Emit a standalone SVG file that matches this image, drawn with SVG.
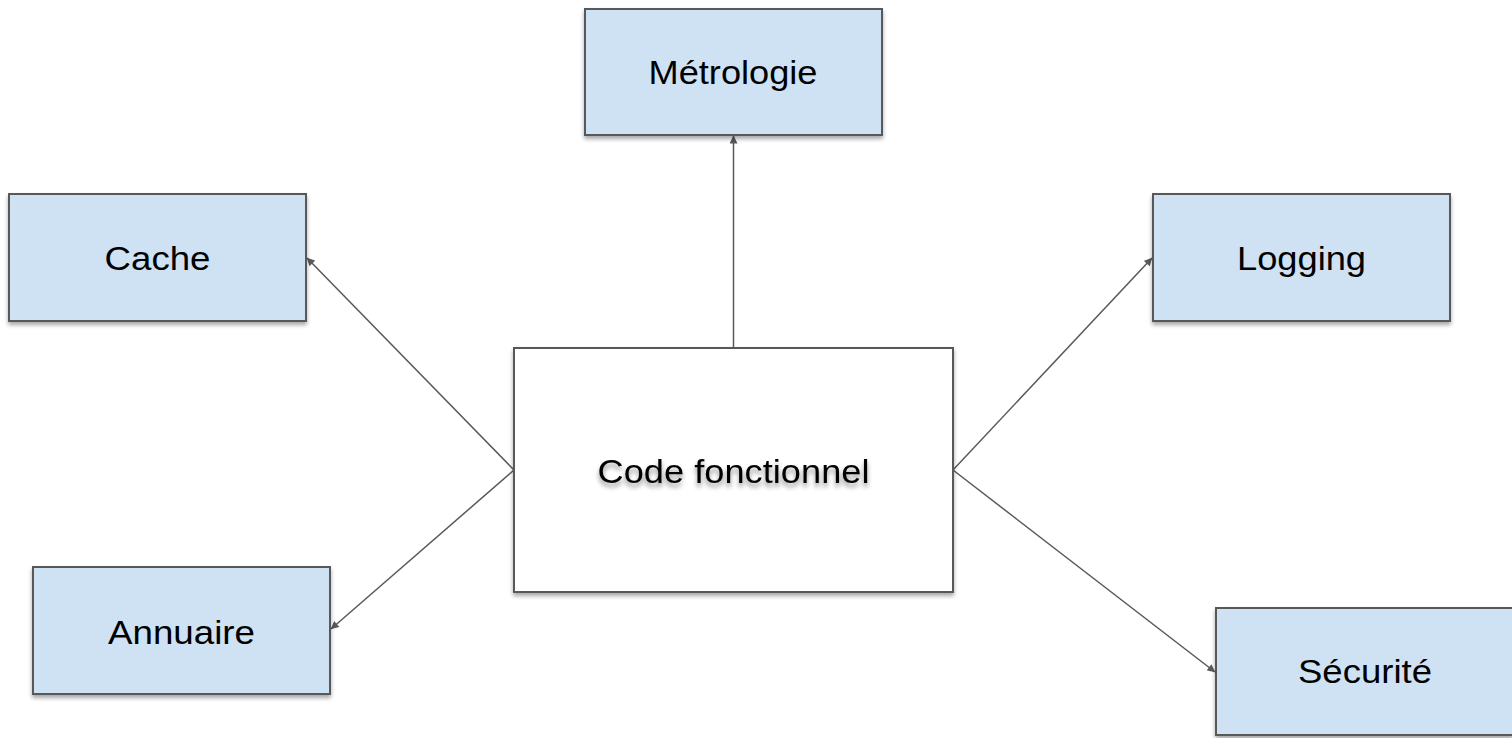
<svg xmlns="http://www.w3.org/2000/svg" width="1512" height="738" viewBox="0 0 1512 738">
  <defs>
    <marker id="arrow" viewBox="0 0 10 10" refX="9.5" refY="5" markerWidth="9" markerHeight="8" markerUnits="userSpaceOnUse" orient="auto">
      <path d="M0,0 L10,5 L0,10 z" fill="#595959"/>
    </marker>
    <filter id="boxShadow" x="-10%" y="-10%" width="120%" height="130%">
      <feGaussianBlur in="SourceAlpha" stdDeviation="2"/>
      <feOffset dx="0" dy="3" result="b"/>
      <feComponentTransfer><feFuncA type="linear" slope="0.35"/></feComponentTransfer>
      <feMerge><feMergeNode/><feMergeNode in="SourceGraphic"/></feMerge>
    </filter>
    <filter id="textShadow" x="-10%" y="-30%" width="120%" height="170%">
      <feGaussianBlur in="SourceAlpha" stdDeviation="2.5"/>
      <feOffset dx="0" dy="4"/>
      <feComponentTransfer><feFuncA type="linear" slope="0.45"/></feComponentTransfer>
      <feMerge><feMergeNode/><feMergeNode in="SourceGraphic"/></feMerge>
    </filter>
  </defs>
  <style>
    .box { fill: #cfe2f3; stroke: #595959; stroke-width: 2; filter: url(#boxShadow); }
    .core { fill: #ffffff; stroke: #595959; stroke-width: 2; filter: url(#boxShadow); }
    .label { font-family: "Liberation Sans", Arial, sans-serif; font-size: 34px; fill: #000000; text-anchor: middle; }
    .edge { stroke: #595959; stroke-width: 1.5; fill: none; marker-end: url(#arrow); }
  </style>
  <rect width="1512" height="738" fill="#ffffff"/>

  <!-- connectors: from the core module out to each cross-cutting concern -->
  <g id="connectors">
    <line class="edge" x1="733.5" y1="348" x2="733.5" y2="136"/>
    <line class="edge" x1="514" y1="470" x2="307" y2="258"/>
    <line class="edge" x1="514" y1="470" x2="331" y2="629"/>
    <line class="edge" x1="953" y1="470" x2="1152" y2="258"/>
    <line class="edge" x1="953" y1="470" x2="1215" y2="672"/>
  </g>

  <g id="node-metrologie">
    <rect class="box" x="585" y="9" width="297" height="126"/>
    <text class="label" x="733" y="84" textLength="169" lengthAdjust="spacingAndGlyphs">Métrologie</text>
  </g>

  <g id="node-cache">
    <rect class="box" x="9" y="194" width="297" height="127"/>
    <text class="label" x="157.5" y="270" textLength="106" lengthAdjust="spacingAndGlyphs">Cache</text>
  </g>

  <g id="node-logging">
    <rect class="box" x="1153" y="194" width="297" height="127"/>
    <text class="label" x="1301.5" y="270" textLength="129" lengthAdjust="spacingAndGlyphs">Logging</text>
  </g>

  <g id="node-annuaire">
    <rect class="box" x="33" y="567" width="297" height="127"/>
    <text class="label" x="181.5" y="644" textLength="147" lengthAdjust="spacingAndGlyphs">Annuaire</text>
  </g>

  <g id="node-securite">
    <rect class="box" x="1216" y="608" width="297" height="127"/>
    <text class="label" x="1365" y="683" textLength="134" lengthAdjust="spacingAndGlyphs">Sécurité</text>
  </g>

  <g id="node-code">
    <rect class="core" x="514" y="348" width="439" height="244"/>
    <text class="label" x="733.5" y="483" font-size="35" textLength="272" lengthAdjust="spacingAndGlyphs" filter="url(#textShadow)">Code fonctionnel</text>
  </g>
</svg>
